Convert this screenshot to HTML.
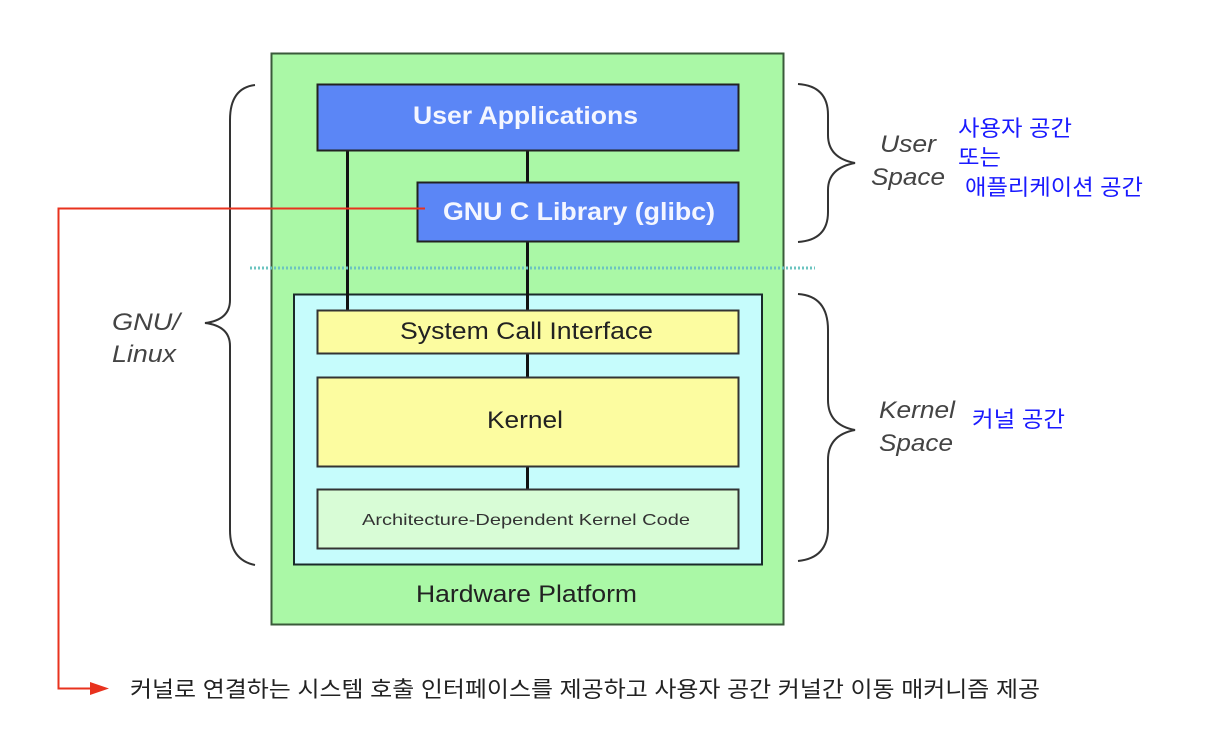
<!DOCTYPE html>
<html><head><meta charset="utf-8"><style>
html,body{margin:0;padding:0;background:#fff;}
svg{display:block;}
.s{font-family:"Liberation Sans","Noto Sans CJK KR",sans-serif;}
</style></head><body>
<svg width="1210" height="752" viewBox="0 0 1210 752" xmlns="http://www.w3.org/2000/svg" class="s">
<rect x="271.5" y="53.5" width="512" height="571" fill="#aaf8a6" stroke="#3a5a3a" stroke-width="2"/>
<rect x="294" y="294.5" width="468" height="270" fill="#c6fcfc" stroke="#1a2a2a" stroke-width="2"/>
<line x1="347.5" y1="150" x2="347.5" y2="310" stroke="#111" stroke-width="3"/>
<line x1="527.5" y1="150" x2="527.5" y2="490" stroke="#111" stroke-width="3"/>
<line x1="250" y1="268" x2="815" y2="268" stroke="#6cc4c0" stroke-width="3" stroke-dasharray="2,2"/>
<rect x="317.5" y="84.5" width="421" height="66" fill="#5b86f6" stroke="#222" stroke-width="2"/>
<text x="413" y="124" textLength="225" lengthAdjust="spacingAndGlyphs" fill="#f4f6ff" font-size="25" font-weight="bold">User Applications</text>
<rect x="417.5" y="182.5" width="321" height="59" fill="#5b86f6" stroke="#222" stroke-width="2"/>
<text x="443" y="220" textLength="272" lengthAdjust="spacingAndGlyphs" fill="#f4f6ff" font-size="25" font-weight="bold">GNU C Library (glibc)</text>
<rect x="317.5" y="310.5" width="421" height="43" fill="#fcfca0" stroke="#333" stroke-width="2"/>
<text x="400" y="339" textLength="253" lengthAdjust="spacingAndGlyphs" fill="#222" font-size="24">System Call Interface</text>
<rect x="317.5" y="377.5" width="421" height="89" fill="#fcfca0" stroke="#333" stroke-width="2"/>
<text x="487" y="428" textLength="76" lengthAdjust="spacingAndGlyphs" fill="#222" font-size="24">Kernel</text>
<rect x="317.5" y="489.5" width="421" height="59" fill="#d8fcd6" stroke="#333" stroke-width="2"/>
<text x="362" y="525" textLength="328" lengthAdjust="spacingAndGlyphs" fill="#333" font-size="16">Architecture-Dependent Kernel Code</text>
<text x="416" y="602" textLength="221" lengthAdjust="spacingAndGlyphs" fill="#222" font-size="24">Hardware Platform</text>
<g fill="none" stroke="#333" stroke-width="2">
<path d="M255,85 Q230,88 230,120 L230,300 Q230,320 205,323 Q230,326 230,346 L230,530 Q230,560 255,565"/>
<path d="M798,84 Q828,86 828,115 L828,135 Q828,158 855,163 Q828,168 828,190 L828,212 Q828,240 798,242"/>
<path d="M798,294 Q828,296 828,330 L828,400 Q828,425 855,430 Q828,435 828,460 L828,528 Q828,558 798,561"/>
</g>
<g fill="#444" font-style="italic" font-size="24" lengthAdjust="spacingAndGlyphs">
<text x="112" y="330" textLength="68" lengthAdjust="spacingAndGlyphs">GNU/</text>
<text x="112" y="362" textLength="64" lengthAdjust="spacingAndGlyphs">Linux</text>
<text x="880" y="152" textLength="56" lengthAdjust="spacingAndGlyphs">User</text>
<text x="871" y="185" textLength="74" lengthAdjust="spacingAndGlyphs">Space</text>
<text x="879" y="418" textLength="76" lengthAdjust="spacingAndGlyphs">Kernel</text>
<text x="879" y="451" textLength="74" lengthAdjust="spacingAndGlyphs">Space</text>
</g>
<g fill="#1a1aff" font-size="22">
<text x="958" y="136" textLength="114" lengthAdjust="spacingAndGlyphs">사용자 공간</text>
<text x="958" y="165" textLength="43" lengthAdjust="spacingAndGlyphs">또는</text>
<text x="965" y="195" textLength="178" lengthAdjust="spacingAndGlyphs">애플리케이션 공간</text>
<text x="972" y="427" textLength="93" lengthAdjust="spacingAndGlyphs">커널 공간</text>
</g>
<path d="M425,208.5 L58.5,208.5 L58.5,688.5 L92,688.5" fill="none" stroke="#e8321e" stroke-width="2"/>
<polygon points="90,682 109,688.5 90,695" fill="#e8321e"/>
<text x="130" y="697" textLength="910" lengthAdjust="spacingAndGlyphs" fill="#222" font-size="22">커널로 연결하는 시스템 호출 인터페이스를 제공하고 사용자 공간 커널간  이동 매커니즘 제공</text>
</svg>
</body></html>
